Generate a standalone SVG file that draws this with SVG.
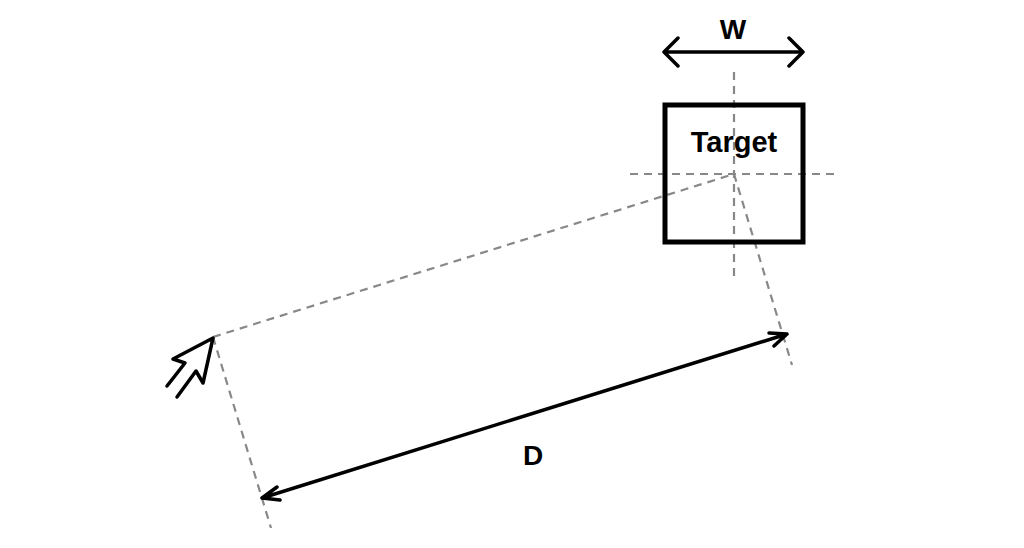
<svg xmlns="http://www.w3.org/2000/svg" width="1024" height="548" viewBox="0 0 1024 548">
<style>
.d{stroke:#888;stroke-width:2.2;stroke-dasharray:8,6;fill:none}
.a{stroke:#000;stroke-width:3.5;fill:none;stroke-linecap:round;stroke-linejoin:round}
text{font-family:"Liberation Sans",Arial,sans-serif;font-weight:bold;fill:#000}
</style>
<rect width="1024" height="548" fill="#fff"/>
<g id="connectors">
<line class="d" x1="734" y1="72" x2="734" y2="278"/>
<line class="d" x1="630" y1="174" x2="838" y2="174"/>
<line class="d" x1="213" y1="337" x2="734" y2="174"/>
<line class="d" x1="734" y1="174" x2="792" y2="365"/>
<line class="d" x1="213" y1="337" x2="271" y2="528"/>
<path class="a" d="M664,52 H803 M678,38 L664,52 L678,66 M789,38 L803,52 L789,66"/>
<path class="a" d="M262,498 L787,334 M277,487 L262,498 L280,500 M769,333 L787,334 L774,346"/>
</g>
<g id="target">
<rect x="665" y="105" width="138" height="137" fill="none" stroke="#000" stroke-width="5"/>
<text x="734" y="152" font-size="29" text-anchor="middle">Target</text>
</g>
<g id="labels">
<text x="733" y="39" font-size="28" text-anchor="middle">W</text>
<text x="533" y="465" font-size="28" text-anchor="middle">D</text>
</g>
<g id="cursor">
<path class="a" stroke-width="5" d="M167,386 L185,363 L173,359 L213,338 L203,383 L196,371 L177,397"/>
</g>
</svg>
